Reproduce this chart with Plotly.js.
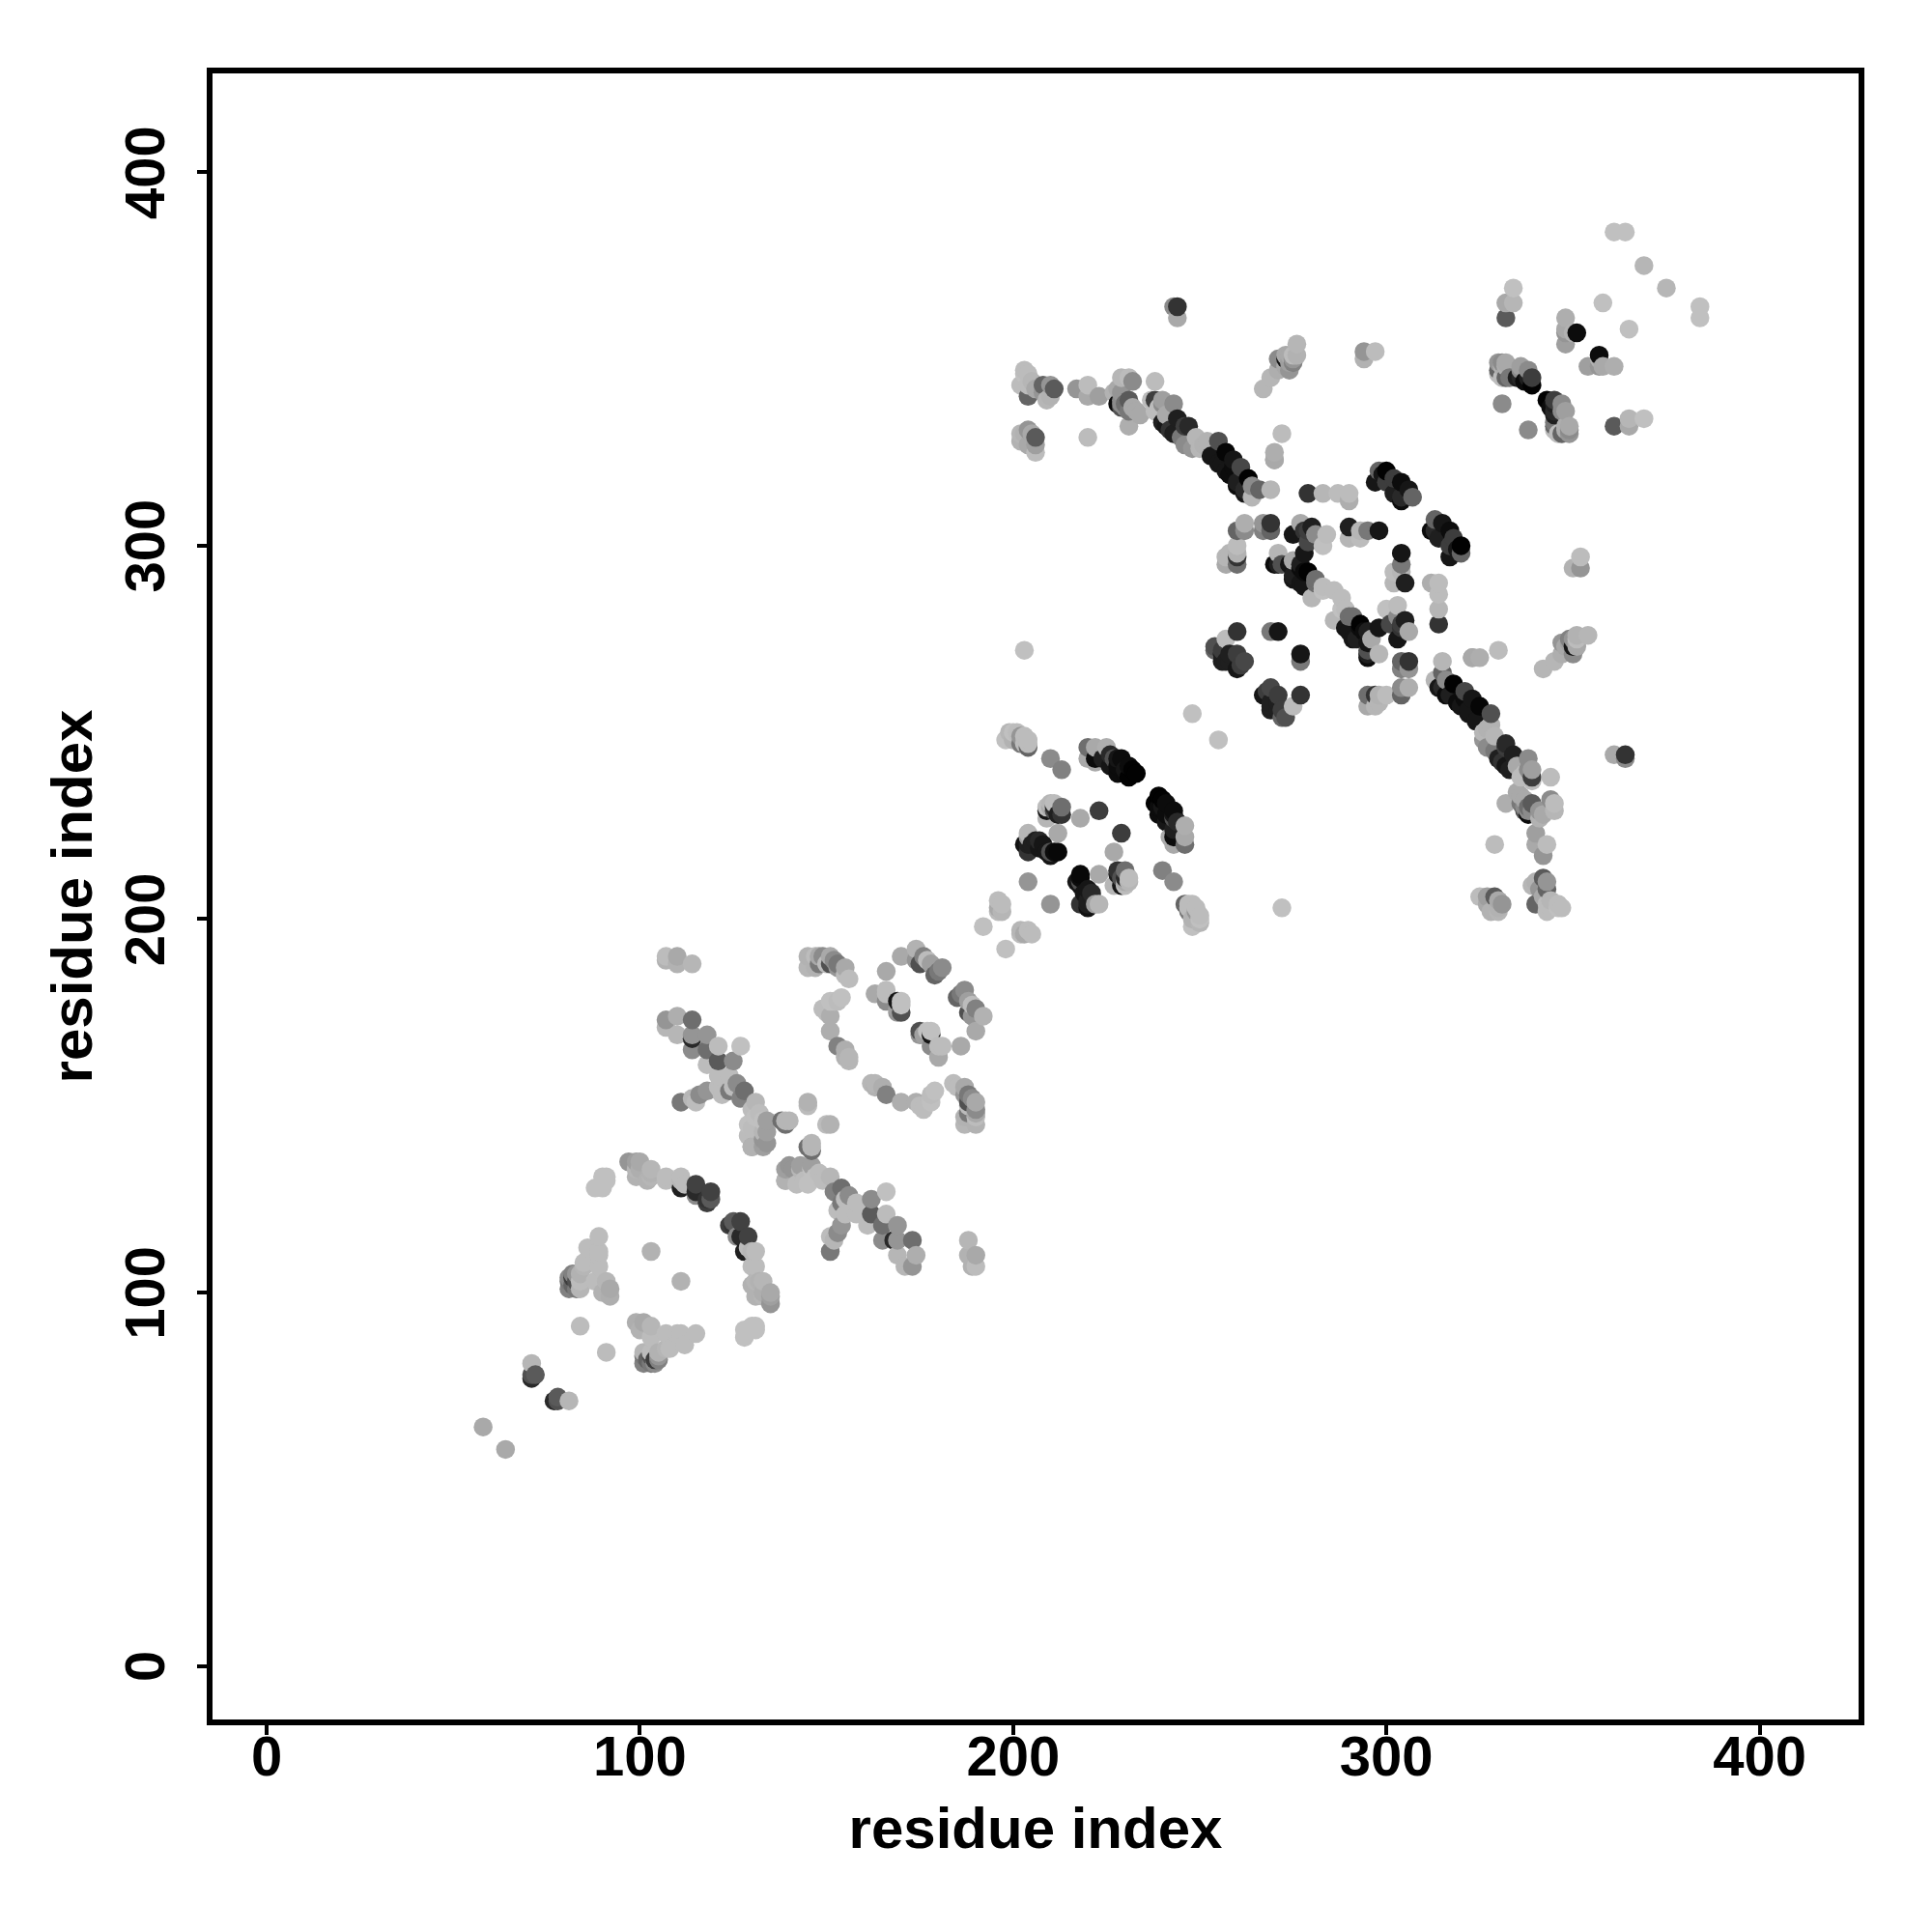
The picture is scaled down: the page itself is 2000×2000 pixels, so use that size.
<!DOCTYPE html>
<html>
<head>
<meta charset="utf-8">
<script src="https://cdn.plot.ly/plotly-3.0.1.min.js"></script>
<style>html,body{margin:0;padding:0;background:#fff}</style>
</head>
<body>
<div id="chart" style="width:2000px;height:2000px"></div>
<script>
// Contacts: [residue i, residue j, score]. The map is symmetric.
const contactsStart = [[58,64,15],[71,81,8],[71,77,80],[72,78,55],[71,78,60],[84,91,5],[103,111,10],
 [92,99,12],[92,101,15],[91,103,8],[89,107,5],[89,111,5],[89,115,5],[86,112,5],[85,107,8],[84,101,8],[83,101,40],[82,102,50],[81,103,40],[81,104,30],[82,105,35],[83,105,25],[84,105,10],[83,103,60],[82,104,70],[90,100,10],[88,103,5],[89,110,5],[85,108,5],[81,101,35],[84,103,5]];
const contactsArc = [[88,128,3],[90,128,3],[90,131,3],[91,130,3],[91,131,3],
 [97,135,25],[99,135,20],[100,135,15],[100,133,12],[103,132,10],[99,131,10],[102,130,10],[103,131,8],[103,133,8],[99,133,8],[107,131,5],[111,131,5],[111,128,85],[112,129,5],[115,129,68],[115,127,80],[115,126,30],[119,127,68],[119,125,55],[118,124,70],[118,125,75],[111,130,8],[107,130,5]];
const contactsCross = [[107,173,25],[107,171,8],[110,174,12],[114,173,45],[110,169,8],[114,168,80],[114,169,25],[114,165,30],[118,169,25],[118,165,45],[121,166,5],[127,166,3],[121,162,55],[125,162,30],[118,161,5],[121,158,5],[124,158,5],[126,156,30],[128,154,45],[121,155,5],[124,154,40],[131,151,8],[129,145,3],[134,146,20],[134,143,20],[134,140,25],[130,139,15],[129,142,5],[111,151,40],[114,152,8],[118,154,25],[115,151,5],[116,153,30],[125,155,5],[127,152,35],[122,153,5],[130,149,5],[132,148,5],[133,139,20],[130,139,10],[133,143,8],[133,146,3],[130,144,5],[131,147,3],[133,141,25],[139,145,45],[140,146,8],[145,150,5],[145,151,10],[139,146,8],[138,146,45],
 [107,190,5],[110,190,15],[114,188,8],[107,189,10],[110,188,10]];
const contactsRing = [[145,190,10],[145,187,8],[147,190,5],[147,187,10],[149,190,30],[148,188,40],[151,188,60],[150,188,5],[153,188,40],[152,189,30],[155,185,5],[155,187,15],[154,179,3],[151,178,3],[152,178,3],[149,176,5],[151,174,12],[150,175,5],[151,170,12],[153,166,35],[155,165,12],[156,163,8],[156,162,8],[155,163,10],[153,178,5],[153,187,25],[156,184,5],[151,190,15],[148,190,15],
 [166,186,15],[170,190,15],[174,192,10],[176,190,35],[181,187,30],[179,185,50],[177,189,5],[175,188,60],[178,188,20],[180,186,40],[163,180,15],[166,180,5],[166,178,30],[169,178,90],[170,178,3],[169,176,20],[169,175,25],[170,177,3],[166,181,5],[170,175,60],[174,189,25]];
const contactsMiddle = [[192,198,3],[196,203,15],[196,205,5],[197,204,5],[197,202,8],[196,202,5],[204,210,25],[218,227,15],[223,229,70],[210,243,30],[213,240,35],
 [198,248,3],[200,248,10],[200,250,3],[202,247,40],[203,247,5],[204,246,50],[203,249,5],[204,248,5],[202,249,25],[201,250,5],[199,250,8],[204,247,5],
 [204,223,8],[203,220,92],[206,221,85],[208,220,90],[212,223,15],[212,218,97],[210,217,90],[209,218,90],[210,218,60],[207,221,80],[205,220,85],[204,220,85],[204,222,20],[211,218,95],[207,219,90],[204,218,75],
 [210,231,8],[213,230,45],[212,228,85],[211,229,60],[209,227,8],[209,229,90],[211,231,5],[210,230,15],[211,230,80],[213,228,75],[209,230,5],
 [220,246,45],[220,243,15],[222,246,15],[225,246,12],[222,243,95],[224,243,85],[226,244,80],[228,243,90],[229,243,95],[226,241,90],[228,241,95],[231,241,95],[233,239,100],[231,238,100],[228,239,95],[230,239,95],[230,240,90],[232,240,100],[227,243,60],[222,242,15],[248,255,3]];
const contactsLong = [[203,272,3],[220,329,5],[244,361,15],[244,364,75],[243,364,30],[294,352,25],[297,352,5],[294,350,10],
 [267,342,8],[269,345,8],[271,347,12],[274,347,25],[273,350,90],[274,349,20],[274,351,15],[273,351,15],[276,351,10],[276,354,8],[275,349,35],[273,348,15],[271,350,30],[275,351,5],[275,350,25],
 [204,340,50],[204,343,5],[203,346,3],[204,346,5],[203,347,5],[205,344,8],[210,340,10],[210,343,25],[208,341,25],[208,343,50],[209,339,8],[211,342,55],[206,342,15],[202,343,5],
 [206,329,55],[204,331,25],[203,330,10],[202,328,10],[202,330,8],[204,327,15],[206,327,20],[206,325,5],[205,330,15],
 [223,340,20],[220,340,15],[220,343,5],[217,342,25],[227,341,10],[229,345,8],[231,345,5],[232,344,30],[228,338,95],[229,339,30],[228,342,15],[231,339,55],[231,336,40],[233,336,15],[234,335,15],[231,332,12],[230,338,45],[230,337,30],[229,338,30],[232,337,15],[229,337,60],[229,341,25],[238,344,5],
 [270,325,12],[270,323,20],[272,330,5],[323,270,15],[279,314,75],[283,314,8],[287,314,5],[290,314,5],[290,312,12]];
const contactsStrandA = [[238,339,70],[238,336,5],[240,339,20],[243,338,30],[240,333,85],[244,334,85],[246,332,70],[242,331,75],[249,329,8],[245,329,40],[251,327,10],[250,326,8],[255,328,60],[253,324,90],[257,325,98],[255,322,90],[259,323,90],[261,321,65],[257,320,90],[263,318,100],[260,317,85],[264,316,30],[262,314,90],[266,315,50],[269,315,8],[264,313,8],
 [262,315,80],[258,319,95],[256,322,90],[252,328,10],[248,326,25],[247,332,80],[246,327,30],[243,330,85],[241,332,90],[241,335,15],[240,338,30],[239,337,5],[237,339,5],[260,316,95],[259,321,95]];
const contactsBlockB = [[298,320,50],[297,317,90],[300,320,100],[302,318,70],[304,317,95],[300,317,70],[302,314,85],[306,315,90],[304,312,95],[307,313,50],[304,313,80],[299,319,90],
 [271,298,8],[270,295,95],[272,295,60],[274,295,90],[275,291,90],[278,293,95],[278,289,90],[281,291,45],[280,286,8],[283,289,5],[283,288,3],[277,295,85],[281,290,45],[279,293,100],[277,290,90],[277,294,95],[278,298,90],[275,292,85],[275,296,15],[271,295,85],[286,288,5],
 [290,305,85],[290,302,8],[293,302,5],[293,304,8],[295,304,40],[298,304,90],[277,306,15],[280,305,85],[275,303,90],[281,303,30],[284,303,5],[279,301,65],[278,304,75],[283,300,3],[279,304,70],
 [262,306,12],[260,304,50],[262,304,30],[267,306,25],[269,306,75],[269,304,50],[267,304,35],[260,300,5],[257,297,8],[260,297,75],[257,295,15],[260,295,45],[260,298,10],[258,298,8],
 [260,277,75],[257,275,5],[254,272,50],[258,271,85],[256,271,85],[262,269,65],[260,267,90],[258,269,85],[256,269,85],[269,277,40],[271,277,90],[261,268,70],[260,271,70],[257,269,85],[256,272,70],[254,273,60]];
const contactsBlockC = [[361,384,3],[364,384,3],[369,375,8],[358,365,3],[334,369,3],[334,365,8],[332,365,15],[332,361,55],[348,361,12],[348,357,25],[350,357,10],[351,357,95],[348,354,20],[348,358,15],
 [330,349,25],[332,348,12],[330,346,5],[333,345,40],[336,348,20],[338,347,30],[339,345,70],[337,344,95],[335,345,85],[339,343,100],[338,345,85],[336,345,80],[336,347,30],[332,349,15],[331,345,5],[330,347,50],[331,349,30],[332,345,50],[331,348,12],[331,338,30]];

const tickValues = [0,100,200,300,400];
const axisName = "residue index";

const contacts = [].concat(contactsStart, contactsArc, contactsCross, contactsRing, contactsMiddle, contactsLong, contactsStrandA, contactsBlockB, contactsBlockC);
const points = [];
contacts.forEach(c => { points.push([c[0], c[1], c[2]]); points.push([c[1], c[0], c[2]]); });
points.sort((a, b) => a[0] - b[0] || a[1] - b[1]);

const trace = {
  type: 'scatter', mode: 'markers',
  x: points.map(p => p[0]), y: points.map(p => p[1]),
  marker: {size: 19.5, color: points.map(p => p[2]), cmin: 0, cmax: 100, line: {width: 0},
    colorscale: [[0,'rgb(198,198,198)'],[1,'rgb(2,2,2)']], showscale: false},
  hoverinfo: 'x+y'
};
const family = '"Liberation Sans", Arial, sans-serif';
const tickFont = {family: family, size: 58, color: '#000', weight: 700};
const titleFont = {family: family, size: 60, color: '#000', weight: 700};
function axis(range, standoff, extra) {
  return Object.assign({
    range: range, tickmode: 'array', tickvals: tickValues, ticktext: tickValues.map(String),
    showgrid: false, zeroline: false, showline: true, mirror: true, linecolor: '#000', linewidth: 6,
    ticks: 'outside', ticklen: 10, tickwidth: 4, tickcolor: '#000', tickfont: tickFont,
    title: {text: axisName, font: titleFont, standoff: standoff}, automargin: false
  }, extra);
}
const layout = {
  width: 2000, height: 2000, showlegend: false, paper_bgcolor: '#fff', plot_bgcolor: '#fff',
  margin: {l: 219.5, r: 75.5, t: 75.5, b: 219.5},
  font: tickFont,
  xaxis: axis([-14.5, 426.5], 24, {ticklabelstandoff: -28}),
  yaxis: axis([-14.33, 426.47], 4, {tickangle: -90, ticklabelstandoff: 11, ticklabelshift: 9})
};
Plotly.newPlot('chart', [trace], layout, {displayModeBar: false, staticPlot: true});
</script>
</body>
</html>
